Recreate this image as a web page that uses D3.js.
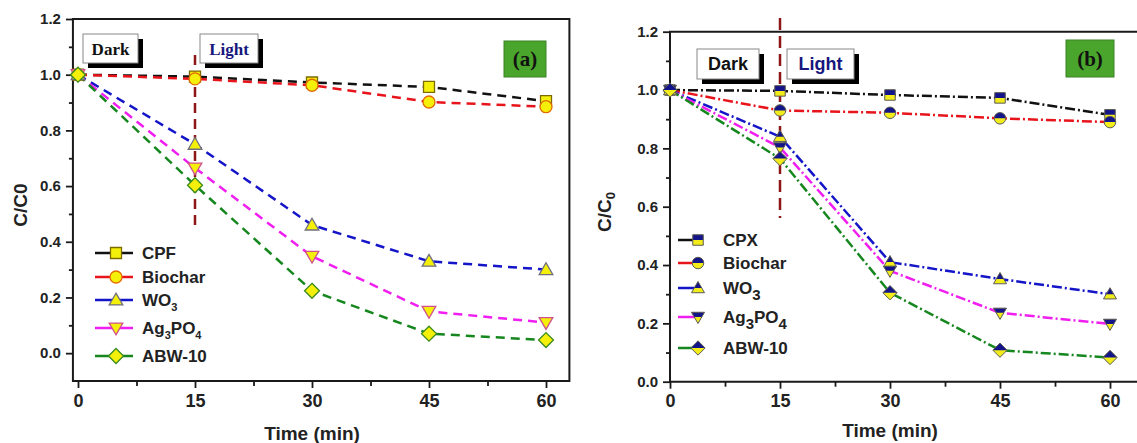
<!DOCTYPE html>
<html>
<head>
<meta charset="utf-8">
<script src="https://cdn.jsdelivr.net/npm/d3@7"></script>
<style>
  body { margin: 0; background: #fff; }
  svg { display: block; font-family: Arial, "Liberation Sans", sans-serif; }
</style>
</head>
<body>
<div id="container"></div>
<script>
const width = 1137;
const height = 443;

// data
const times = [0, 15, 30, 45, 60];
const labelsA = ["CPF", "Biochar", "WO_3", "Ag_3PO_4", "ABW-10"];
const labelsB = ["CPX", "Biochar", "WO_3", "Ag_3PO_4", "ABW-10"];
const cpfA = [1.0, 0.993, 0.972, 0.956, 0.905];
const biocharA = [1.0, 0.985, 0.962, 0.902, 0.885];
const wo3A = [1.0, 0.75, 0.46, 0.33, 0.30];
const ag3po4A = [1.0, 0.665, 0.348, 0.15, 0.11];
const abwA = [1.0, 0.603, 0.224, 0.07, 0.047];
const cpxB = [1.0, 0.997, 0.983, 0.973, 0.915];
const biocharB = [1.0, 0.93, 0.922, 0.903, 0.89];
const wo3B = [1.0, 0.84, 0.41, 0.352, 0.30];
const ag3po4B = [1.0, 0.803, 0.38, 0.236, 0.198];
const abwB = [1.0, 0.765, 0.305, 0.108, 0.083];
const xTicks = [0, 15, 30, 45, 60];
const yTicksA = [0.0, 0.2, 0.4, 0.6, 0.8, 1.0, 1.2];
const yTicksB = [0.0, 0.2, 0.4, 0.6, 0.8, 1.0, 1.2];

const lineColors = ["#111111", "#e8141b", "#1414c8", "#f01ef0", "#16871e"];
const shapes = ["square", "circle", "up", "down", "diamond"];

const svg = d3.select("#container").append("svg")
  .attr("width", width).attr("height", height);

// top half clip for the two-tone markers of panel (b)
svg.append("defs").append("clipPath").attr("id", "tophalf")
  .append("rect").attr("x", -12).attr("y", -12).attr("width", 24).attr("height", 12);

function markerPath(shape, s) {
  const p = d3.path();
  if (shape === "square") { p.rect(-s / 2, -s / 2, s, s); }
  else if (shape === "circle") { p.arc(0, 0, s / 2 + 0.5, 0, 2 * Math.PI); }
  else if (shape === "up") { p.moveTo(0, -s * 0.62); p.lineTo(s * 0.62, s * 0.45); p.lineTo(-s * 0.62, s * 0.45); p.closePath(); }
  else if (shape === "down") { p.moveTo(0, s * 0.62); p.lineTo(s * 0.62, -s * 0.45); p.lineTo(-s * 0.62, -s * 0.45); p.closePath(); }
  else { p.moveTo(0, -s * 0.68); p.lineTo(s * 0.68, 0); p.lineTo(0, s * 0.68); p.lineTo(-s * 0.68, 0); p.closePath(); }
  return p.toString();
}

function drawMarker(g, shape, cfg, i) {
  const d = markerPath(shape, cfg.markerSize);
  if (cfg.twoTone) {
    g.append("path").attr("d", d).attr("fill", "#f2ec1a");
    g.append("path").attr("d", d).attr("fill", "#14148a").attr("clip-path", "url(#tophalf)");
    g.append("path").attr("d", d).attr("fill", "none").attr("stroke", "#5a5a5a").attr("stroke-width", 1);
  } else {
    g.append("path").attr("d", d).attr("fill", "#f5f00a")
      .attr("stroke", cfg.markerStroke[i]).attr("stroke-width", 1.3);
  }
}

function subText(sel, label, size, subSize, subDy) {
  label.split("_").forEach((part, k) => {
    if (k === 0) { sel.append("tspan").text(part); return; }
    sel.append("tspan").attr("font-size", subSize).attr("dy", subDy).text(part[0]);
    if (part.length > 1) sel.append("tspan").attr("font-size", size).attr("dy", -subDy).text(part.slice(1));
  });
}

function labelBox(g, x, y, w, h, text, color, font, fsize) {
  g.append("rect").attr("x", x + 5).attr("y", y + 5).attr("width", w).attr("height", h).attr("fill", "#000");
  g.append("rect").attr("x", x).attr("y", y).attr("width", w).attr("height", h)
    .attr("fill", "#fff").attr("stroke", "#888").attr("stroke-width", 1);
  g.append("text").attr("x", x + w / 2).attr("y", y + h / 2 + fsize * 0.36)
    .attr("text-anchor", "middle").attr("font-family", font).attr("font-weight", "bold")
    .attr("font-size", fsize).attr("fill", color).text(text);
}

function drawPanel(cfg) {
  const g = svg.append("g");
  const x = d3.scaleLinear().domain([0, 60]).range(cfg.xRange);
  const y = d3.scaleLinear().domain(cfg.yDomain).range(cfg.yRange);
  const left = x(cfg.xMin), right = x(cfg.xMax);
  const top = y(1.2), bottom = cfg.yRange[0];

  // frame
  g.append("path")
    .attr("d", `M${left},${bottom}V${top}H${right}V${bottom}Z`)
    .attr("fill", "none").attr("stroke", "#1a1a1a").attr("stroke-width", 2);

  // y axis
  const yAxis = d3.axisLeft(y).tickValues(cfg.yTicks).tickSize(7).tickPadding(5).tickFormat(d3.format(".1f"));
  const ya = g.append("g").attr("transform", `translate(${left},0)`).call(yAxis);
  ya.select(".domain").remove();
  g.append("g").attr("transform", `translate(${left},0)`)
    .call(d3.axisLeft(y).tickValues(cfg.yTicks.slice(0, -1).map(v => v + 0.1)).tickSize(4).tickFormat(""))
    .select(".domain").remove();

  // x axis
  const xa = g.append("g").attr("transform", `translate(0,${bottom})`)
    .call(d3.axisBottom(x).tickValues(xTicks).tickSize(7).tickPadding(6));
  xa.select(".domain").remove();
  g.append("g").attr("transform", `translate(0,${bottom})`)
    .call(d3.axisBottom(x).tickValues([7.5, 22.5, 37.5, 52.5]).tickSize(5).tickFormat(""))
    .select(".domain").remove();

  g.selectAll(".tick line").attr("stroke", "#1a1a1a").attr("stroke-width", 1.8);
  g.selectAll(".tick text").style("font-size", "15px").style("font-weight", "bold").attr("fill", "#222")
    .style("font-family", "Arial, 'Liberation Sans', sans-serif");
  xa.selectAll(".tick text").style("font-size", "18px");

  // axis titles
  g.append("text").attr("x", x(30)).attr("y", cfg.xTitleY).attr("text-anchor", "middle")
    .attr("font-size", 19).attr("font-weight", "bold").attr("fill", "#222").text("Time (min)");
  const yt = g.append("text").attr("transform", `translate(${cfg.yTitleX},${cfg.yTitleY}) rotate(-90)`)
    .attr("text-anchor", "middle").attr("font-size", 19).attr("font-weight", "bold").attr("fill", "#222");
  yt.append("tspan").text("C/C");
  yt.append("tspan").attr("font-size", cfg.c0Size).attr("dy", cfg.c0Dy).text("0");

  // light-on marker line
  g.append("line").attr("x1", x(15)).attr("x2", x(15)).attr("y1", cfg.vLine[0]).attr("y2", cfg.vLine[1])
    .attr("stroke", "#8e1616").attr("stroke-width", 2.5).attr("stroke-dasharray", cfg.vDash);

  // series
  const line = d3.line().x((d, i) => x(times[i])).y(d => y(d));
  cfg.series.forEach((vals, i) => {
    g.append("path").datum(vals).attr("d", line).attr("fill", "none")
      .attr("stroke", lineColors[i]).attr("stroke-width", 2.5).attr("stroke-dasharray", cfg.dash);
  });
  cfg.series.forEach((vals, i) => {
    vals.forEach((v, j) => {
      const mg = g.append("g").attr("transform", `translate(${x(times[j])},${y(v)})`);
      drawMarker(mg, shapes[i], cfg, i);
    });
  });

  // legend
  cfg.labels.forEach((lab, i) => {
    const ly = cfg.legendY[i];
    g.append("line").attr("x1", cfg.legendX[0]).attr("x2", cfg.legendX[1]).attr("y1", ly).attr("y2", ly)
      .attr("stroke", lineColors[i]).attr("stroke-width", 2.5);
    const mg = g.append("g").attr("transform", `translate(${cfg.legendX[2]},${ly})`);
    drawMarker(mg, shapes[i], cfg, i);
    const t = g.append("text").attr("x", cfg.legendX[3]).attr("y", ly + 6)
      .attr("font-size", 17).attr("font-weight", "bold").attr("fill", "#222");
    subText(t, lab, 17, cfg.subSize, cfg.subDy);
  });

  // annotation boxes
  labelBox(g, cfg.darkBox[0], cfg.darkBox[1], cfg.darkBox[2], cfg.darkBox[3], "Dark", "#111", cfg.boxFont, cfg.boxSize);
  labelBox(g, cfg.lightBox[0], cfg.lightBox[1], cfg.lightBox[2], cfg.lightBox[3], "Light", "#17177e", cfg.boxFont, cfg.boxSize);

  const pb = cfg.panelBox;
  g.append("rect").attr("x", pb[0]).attr("y", pb[1]).attr("width", pb[2]).attr("height", pb[3])
    .attr("fill", "#4aa52c").attr("stroke", "#3b8424").attr("stroke-width", 1);
  g.append("text").attr("x", pb[0] + pb[2] / 2).attr("y", pb[1] + pb[3] / 2 + 7)
    .attr("text-anchor", "middle").attr("font-family", "'Liberation Serif', 'Times New Roman', serif")
    .attr("font-weight", "bold").attr("font-size", 21).attr("fill", "#111").text(cfg.panelLabel);
}

drawPanel({
  xRange: [78, 546], xMin: -0.65, xMax: 63,
  yDomain: [-0.1, 1.2], yRange: [381, 19], yTicks: yTicksA,
  series: [cpfA, biocharA, wo3A, ag3po4A, abwA], labels: labelsA,
  dash: "9,6", vDash: "10,6", vLine: [55, 226],
  twoTone: false, markerSize: 11,
  markerStroke: ["#7d6a00", "#e26b00", "#6f6f80", "#d0508c", "#3b8a1e"],
  xTitleY: 440, yTitleX: 27, yTitleY: 205, c0Size: 19, c0Dy: 0,
  legendX: [95, 133, 116, 142], legendY: [253, 277, 300, 328, 356], subSize: 11, subDy: 5,
  darkBox: [83, 34, 55, 29], lightBox: [200, 34, 58, 29],
  boxFont: "'Liberation Serif', 'Times New Roman', serif", boxSize: 17,
  panelBox: [504, 41, 42, 36], panelLabel: "(a)"
});

drawPanel({
  xRange: [670, 1110], xMin: 0, xMax: 64.5,
  yDomain: [0, 1.2], yRange: [381.7, 31.7], yTicks: yTicksB,
  series: [cpxB, biocharB, wo3B, ag3po4B, abwB], labels: labelsB,
  dash: "10,3,2,3", vDash: "12,6", vLine: [18, 218],
  twoTone: true, markerSize: 10.5,
  xTitleY: 437, yTitleX: 611, yTitleY: 212, c0Size: 13, c0Dy: 4,
  legendX: [678, 698, 698, 723], legendY: [240, 263, 288, 317, 348], subSize: 15, subDy: 6,
  darkBox: [697, 49, 62, 30], lightBox: [787, 49, 67, 30],
  boxFont: "Arial, 'Liberation Sans', sans-serif", boxSize: 18,
  panelBox: [1066, 40, 48, 37], panelLabel: "(b)"
});
</script>
</body>
</html>
